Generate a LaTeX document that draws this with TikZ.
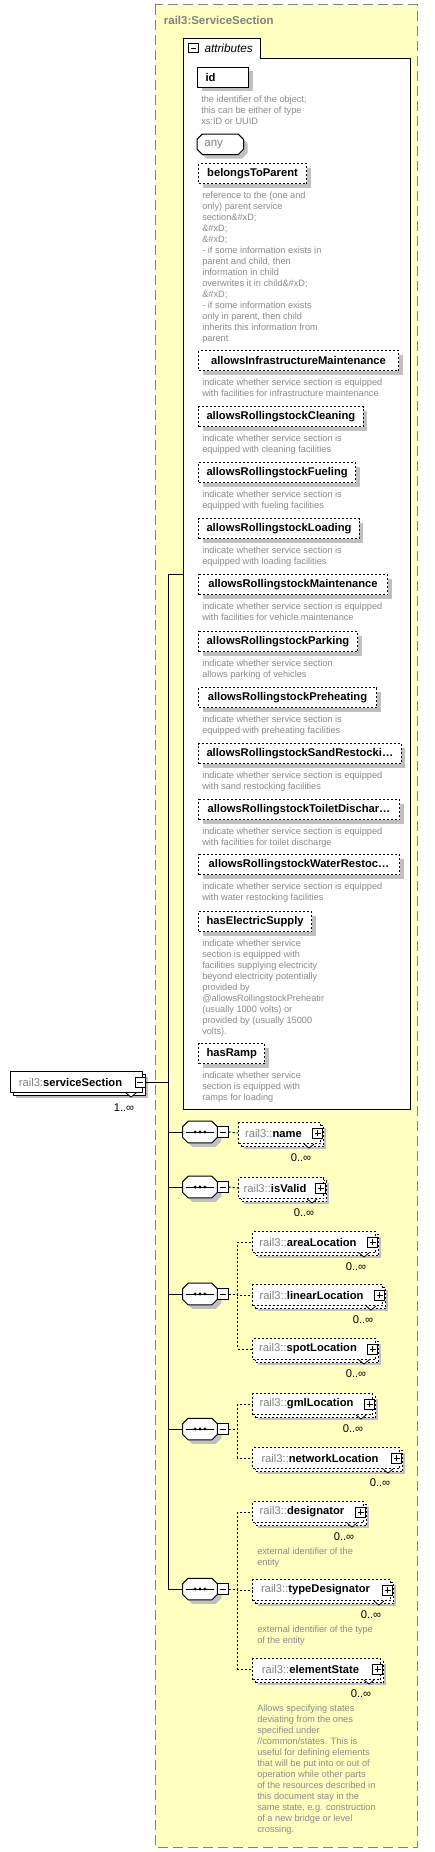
\documentclass[tikz,border=0pt]{standalone}
\usepackage{fontspec}
\setmainfont{Liberation Sans}
\usetikzlibrary{
  positioning,
  shadows
}
\definecolor{xsdYellow}{HTML}{FFFFC0}
\definecolor{xsdFrame}{HTML}{808080}
\definecolor{xsdNote}{HTML}{8A8A8A}
\definecolor{xsdShade}{HTML}{C0C0C0}
\definecolor{xsdInk}{HTML}{000000}
\newcommand{\nsq}[1]{\textcolor{xsdFrame}{rail3::}\textbf{#1}}
\tikzset{
  every node/.style={font=\fontsize{8.4}{10}\selectfont, text=xsdInk},
  title/.style={font=\fontsize{8.6}{10}\selectfont\bfseries, text=xsdFrame, inner sep=2pt},
  container/.style={
    draw=xsdFrame,
    fill=xsdYellow,
    line width=0.75pt,
    dash pattern=on 7.5pt off 3.75pt
  },
  shade/.style={general shadow={fill=xsdShade, shadow xshift=3pt, shadow yshift=-3pt}},
  attr/.style={
    draw,
    fill=white,
    line width=0.75pt,
    shade,
    minimum height=15pt,
    inner xsep=6pt,
    anchor=north west,
    font=\fontsize{8.4}{10}\selectfont\bfseries
  },
  optattr/.style={attr, dash pattern=on 1.5pt off 1.5pt},
  note/.style={
    anchor=north west,
    inner sep=0pt,
    align=left,
    text=xsdNote,
    font=\fontsize{6.9}{8.25}\selectfont
  },
  elem/.style={
    draw,
    fill=white,
    line width=0.75pt,
    minimum height=15.75pt,
    inner xsep=3pt,
    anchor=north west,
    general shadow={fill=xsdShade, shadow xshift=3.75pt, shadow yshift=-3.75pt},
    general shadow={fill=white, draw, shadow xshift=2.25pt, shadow yshift=-2.25pt},
    execute at end node={\hspace*{9pt}}
  },
  optelem/.style={elem, dash pattern=on 1.5pt off 1.5pt},
  seqspot/.style={rectangle, minimum width=25.5pt, minimum height=15.75pt, inner sep=0pt},
  octagon/.style={insert path={
    ([xshift=4pt]#1.north west) -- ([xshift=-4pt]#1.north east) -- ([yshift=-4pt]#1.north east)
    -- ([yshift=4pt]#1.south east) -- ([xshift=-4pt]#1.south east) -- ([xshift=4pt]#1.south west)
    -- ([yshift=4pt]#1.south west) -- ([yshift=-4pt]#1.north west) -- cycle}},
  octo/.style={draw=xsdInk, fill=white, line width=0.75pt, shade},
  minusbox/.style={
    draw,
    fill=white,
    line width=0.6pt,
    minimum size=7.5pt,
    inner sep=0pt,
    path picture={\draw[line width=0.6pt] ([xshift=1.5pt]path picture bounding box.west) -- ([xshift=-1.5pt]path picture bounding box.east);}
  },
  plusbox/.style={
    draw,
    fill=white,
    line width=0.6pt,
    minimum size=7.5pt,
    inner sep=0pt,
    path picture={
      \draw[line width=0.6pt] ([xshift=1.5pt]path picture bounding box.west) -- ([xshift=-1.5pt]path picture bounding box.east);
      \draw[line width=0.6pt] ([yshift=-1.5pt]path picture bounding box.north) -- ([yshift=1.5pt]path picture bounding box.south);
    }
  },
  occ/.style={inner sep=0pt},
  link/.style={line width=0.75pt, draw=xsdInk},
  dashlink/.style={line width=0.75pt, draw=xsdInk, dash pattern=on 1.5pt off 1.5pt}
}

\begin{document}
\begin{tikzpicture}[x=0.75pt,y=-0.75pt]
  \useasboundingbox (0,0) rectangle (435,1852);
  \draw[container] (155,5) rectangle (417,1847);
  \node[title, anchor=west] (ttl) at (161,20) {rail3:ServiceSection};

  % attribute group
  \node[draw, fill=white, line width=0.75pt, minimum width=170.25pt, minimum height=788.25pt,
    anchor=north west, inner sep=0pt] (attrs) at (183,58) {};
  \node[draw, fill=white, line width=0.75pt, minimum width=57.75pt, minimum height=14.25pt,
    anchor=south west, inner sep=0pt, font=\fontsize{8.8}{10}\selectfont\itshape] (tab) at (183,58)
    {\hspace*{10pt}attributes};
  \draw[white, line width=1pt] ([xshift=0.45pt]tab.south west) -- ([xshift=-0.45pt]tab.south east);
  \node[minusbox, minimum size=7pt] (tabMinus) at ([xshift=7.9pt]tab.west) {};

  \node[attr, minimum width=38.25pt, text width=26.25pt, align=left] (id) at (197,67) {id};
  \node[note] at ([shift={(3pt,-6pt)}]id.south west)
    {the identifier of the object;\\this can be either of type\\xs:ID or UUID};
  \node[seqspot, minimum width=34.5pt, minimum height=15pt, anchor=north west] (any) at (197,134) {};
  \draw[octo, octagon=any];
  \node[text=xsdFrame, font=\fontsize{8.6}{10}\selectfont, anchor=west] at ([xshift=2pt]any.west) {any};

  \node[optattr, minimum width=81pt] (parent) at (198,163) {belongsToParent};
  \node[note] at ([shift={(3pt,-6pt)}]parent.south west)
    {reference to the (one and\\only) parent service\\section\&\#xD;\\\&\#xD;\\\&\#xD;\\
     - if some information exists in\\parent and child, then\\information in child\\
     overwrites it in child\&\#xD;\\\&\#xD;\\- if some information exists\\
     only in parent, then child\\inherits this information from\\parent};

  \node[optattr, minimum width=150pt] (infra) at (198,350) {allowsInfrastructureMaintenance};
  \node[note] at ([shift={(3pt,-6pt)}]infra.south west)
    {indicate whether service section is equipped\\with facilities for infrastructure maintenance};
  \node[optattr, minimum width=123pt] (clean) at (198,406) {allowsRollingstockCleaning};
  \node[note] at ([shift={(3pt,-6pt)}]clean.south west)
    {indicate whether service section is\\equipped with cleaning facilities};
  \node[optattr, minimum width=117.75pt] (fuel) at (198,462) {allowsRollingstockFueling};
  \node[note] at ([shift={(3pt,-6pt)}]fuel.south west)
    {indicate whether service section is\\equipped with fueling facilities};
  \node[optattr, minimum width=120pt] (load) at (198,518) {allowsRollingstockLoading};
  \node[note] at ([shift={(3pt,-6pt)}]load.south west)
    {indicate whether service section is\\equipped with loading facilities};
  \node[optattr, minimum width=141.75pt] (maint) at (198,574) {allowsRollingstockMaintenance};
  \node[note] at ([shift={(3pt,-6pt)}]maint.south west)
    {indicate whether service section is equipped\\with facilities for vehicle maintenance};
  \node[optattr, minimum width=119.25pt] (park) at (198,631) {allowsRollingstockParking};
  \node[note] at ([shift={(3pt,-6pt)}]park.south west)
    {indicate whether service section\\allows parking of vehicles};
  \node[optattr, minimum width=133.5pt] (preheat) at (198,687) {allowsRollingstockPreheating};
  \node[note] at ([shift={(3pt,-6pt)}]preheat.south west)
    {indicate whether service section is\\equipped with preheating facilities};
  \node[optattr, minimum width=150.75pt] (sand) at (198,743) {allowsRollingstockSandRestocki\ldots};
  \node[note] at ([shift={(3pt,-6pt)}]sand.south west)
    {indicate whether service section is equipped\\with sand restocking facilities};
  \node[optattr, minimum width=150.75pt] (toilet) at (198,799) {allowsRollingstockToiletDischar\ldots};
  \node[note] at ([shift={(3pt,-6pt)}]toilet.south west)
    {indicate whether service section is equipped\\with facilities for toilet discharge};
  \node[optattr, minimum width=150.75pt] (water) at (198,854) {allowsRollingstockWaterRestoc\ldots};
  \node[note] at ([shift={(3pt,-6pt)}]water.south west)
    {indicate whether service section is equipped\\with water restocking facilities};

  \node[optattr, minimum width=83.25pt] (power) at (198,911) {hasElectricSupply};
  \node[note] at ([shift={(3pt,-6pt)}]power.south west)
    {indicate whether service\\section is equipped with\\facilities supplying electricity\\
     beyond electricity potentially\\provided by\\@allowsRollingstockPreheatir\\
     (usually 1000 volts) or\\provided by (usually 15000\\volts).};
  \node[optattr, minimum width=48.75pt] (ramp) at (198,1043) {hasRamp};
  \node[note] at ([shift={(3pt,-6pt)}]ramp.south west)
    {indicate whether service\\section is equipped with\\ramps for loading};

  % root element
  \node[elem, minimum width=99pt] (svc) at (10,1071)
    {\textcolor{xsdFrame}{rail3:}\textbf{serviceSection}};
  \draw[fill=white, line width=0.6pt] ([xshift=-12.75pt]svc.south east) -- ++(5,4) -- ++(5,-4);
  \node[minusbox] (svcMinus) at ([xshift=-2.25pt]svc.east) {};
  \node[occ] at ([shift={(-14.25pt,-11pt)}]svc.south east) {1..∞};

  % sequences
  \foreach \i/\y in {1/1132,2/1187,3/1294,4/1429,5/1589} {
    \node[seqspot] (s\i) at (200,\y) {};
    \draw[octo, octagon=s\i];
    \draw[line width=0.75pt] ([xshift=2.5pt]s\i.west) -- ([xshift=-2.5pt]s\i.east);
    \foreach \d in {-3.6,0,3.6} \fill ([xshift=\d pt]s\i.center) circle (1.15pt);
    \node[minusbox, minimum size=8pt, right=0pt of s\i] (m\i) {};
  }

  % child elements
  \node[optelem, minimum width=61.5pt] (name) at (238,1122) {\nsq{name}};
  \node[optelem, minimum width=63.75pt] (isValid) at (238,1177) {\nsq{isValid}};
  \node[optelem, minimum width=92.25pt] (area) at (252,1231) {\nsq{areaLocation}};
  \node[optelem, minimum width=97.5pt] (linear) at (252,1284) {\nsq{linearLocation}};
  \node[optelem, minimum width=92.25pt] (spot) at (252,1338) {\nsq{spotLocation}};
  \node[optelem, minimum width=90pt] (gml) at (252,1393) {\nsq{gmlLocation}};
  \node[optelem, minimum width=110.25pt] (network) at (252,1447) {\nsq{networkLocation}};
  \node[optelem, minimum width=83.25pt] (desig) at (252,1501) {\nsq{designator}};
  \node[optelem, minimum width=103.5pt] (typeDesig) at (252,1579) {\nsq{typeDesignator}};
  \node[optelem, minimum width=96pt] (state) at (252,1658) {\nsq{elementState}};

  \foreach \e in {name,isValid,area,linear,spot,gml,network,desig,typeDesig,state} {
    \draw[fill=white, line width=0.6pt] ([xshift=-12.75pt]\e.south east) -- ++(5,4) -- ++(5,-4);
    \node[plusbox] at ([xshift=-2.6pt]\e.east) {};
    \node[occ] at ([shift={(-15pt,-10.5pt)}]\e.south east) {0..∞};
  }

  \node[note] at ([shift={(3.75pt,-18.75pt)}]desig.south west)
    {external identifier of the\\entity};
  \node[note] at ([shift={(3.75pt,-18.75pt)}]typeDesig.south west)
    {external identifier of the type\\of the entity};
  \node[note] at ([shift={(3.75pt,-18.75pt)}]state.south west)
    {Allows specifying states\\deviating from the ones\\specified under\\//common/states. This is\\
     useful for defining elements\\that will be put into or out of\\operation while other parts\\
     of the resources described in\\this document stay in the\\same state, e.g. construction\\
     of a new bridge or level\\crossing.};

  % connectors
  \coordinate (busTop) at (168,574);
  \draw[link] (busTop) -- (busTop |- s5.west);
  \draw[link] (busTop) -- (busTop -| attrs.west);
  \draw[link] (svcMinus.east) -- (svcMinus.east -| busTop);
  \foreach \i in {1,...,5} \draw[link] (s\i.west -| busTop) -- (s\i.west);

  \draw[dashlink] (m1.east) -- (name.west);
  \draw[dashlink] (m2.east) -- (isValid.west);
  \foreach \e in {area,linear,spot} \draw[dashlink] (m3.east) -- ++(9,0) |- (\e.west);
  \foreach \e in {gml,network} \draw[dashlink] (m4.east) -- ++(9,0) |- (\e.west);
  \foreach \e in {desig,typeDesig,state} \draw[dashlink] (m5.east) -- ++(9,0) |- (\e.west);
\end{tikzpicture}
\end{document}
